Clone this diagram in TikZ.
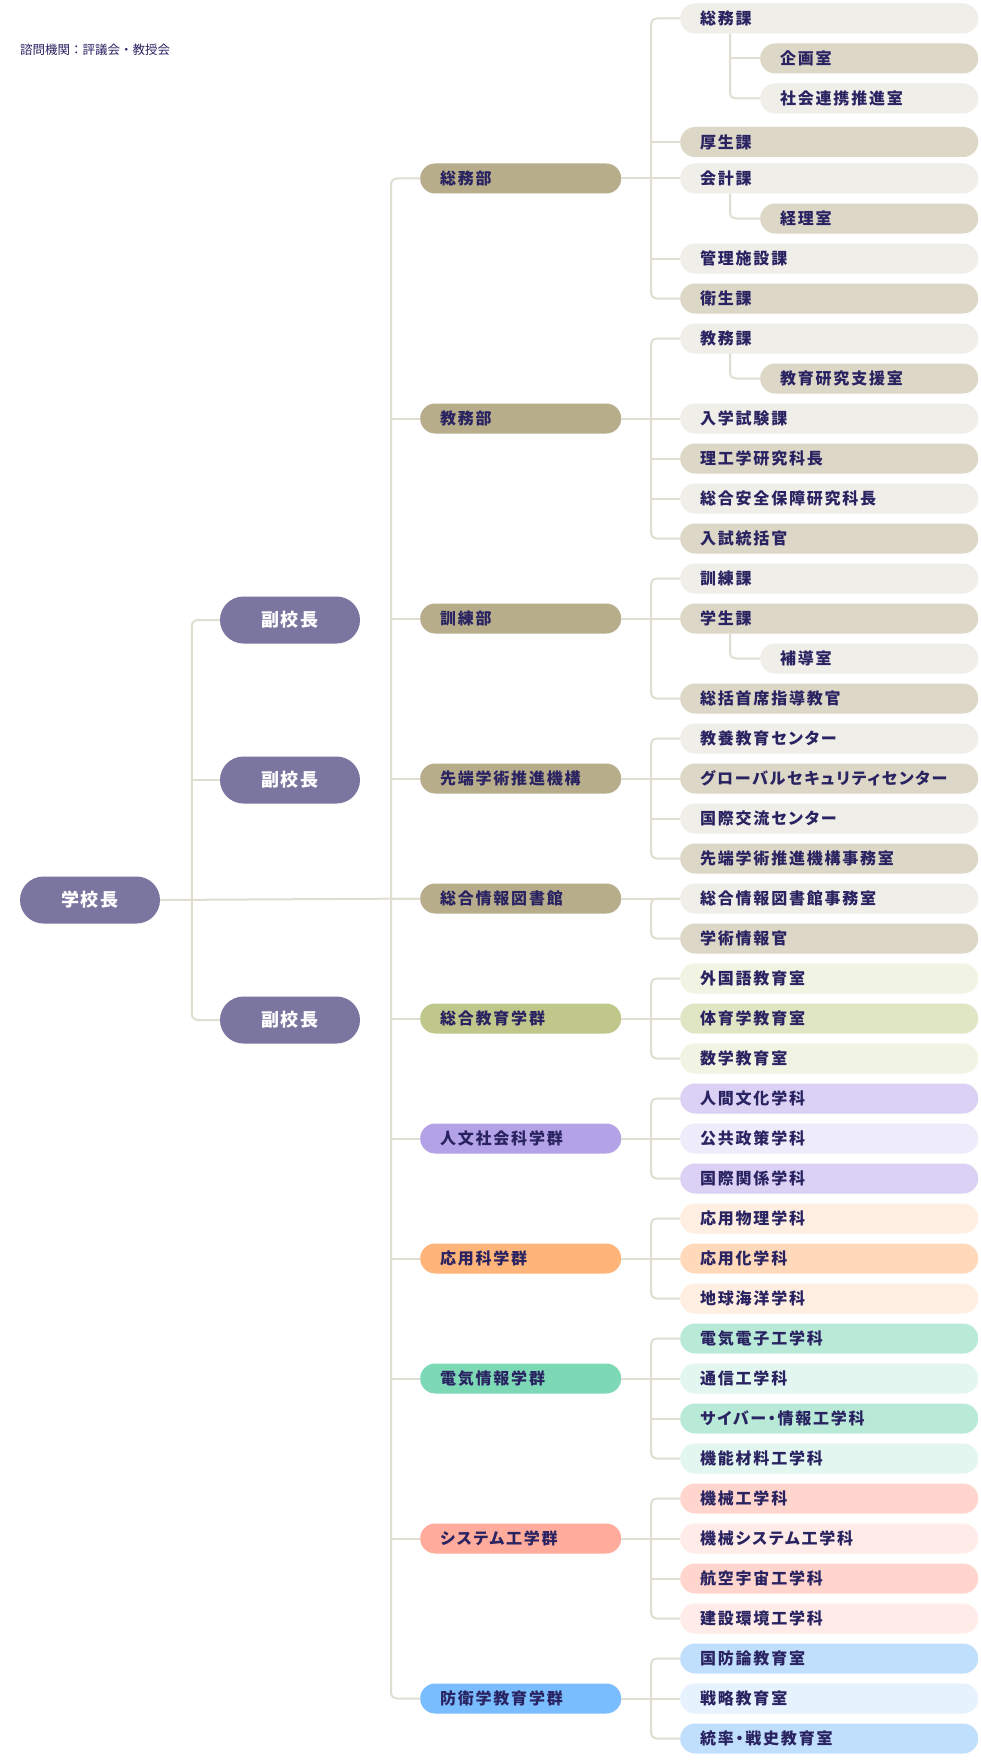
\documentclass[tikz,border=0pt]{standalone}
\usepackage{fontspec}
\setmainfont{Noto Sans CJK JP}
\newfontfamily\jplabel{Noto Sans CJK JP}[LetterSpace=11, RawFeature=+palt]
\usepackage{tikz}
\usetikzlibrary{calc}
\definecolor{navy}{HTML}{2A2362}
\definecolor{headclr}{HTML}{7B76A0}
\definecolor{lineclr}{HTML}{E0DDD1}
\definecolor{brM}{HTML}{B7AD8A}
\definecolor{brL}{HTML}{EFEEE8}
\definecolor{brD}{HTML}{DCD7C7}
\definecolor{grM}{HTML}{C0C78A}
\definecolor{grL}{HTML}{F1F3E3}
\definecolor{grD}{HTML}{E0E5C4}
\definecolor{puM}{HTML}{B3A2E6}
\definecolor{puL}{HTML}{EEEBFA}
\definecolor{puD}{HTML}{DAD1F4}
\definecolor{orM}{HTML}{FFB47A}
\definecolor{orL}{HTML}{FFEFE2}
\definecolor{orD}{HTML}{FFD9BA}
\definecolor{tlM}{HTML}{7DD8B6}
\definecolor{tlL}{HTML}{E3F6EF}
\definecolor{tlD}{HTML}{B8EAD7}
\definecolor{pkM}{HTML}{FFAC9C}
\definecolor{pkL}{HTML}{FFECE8}
\definecolor{pkD}{HTML}{FFD5CD}
\definecolor{blM}{HTML}{7ABDFF}
\definecolor{blL}{HTML}{E6F2FE}
\definecolor{blD}{HTML}{C0DFFC}
\newcommand{\clrtext}{navy}
\newcommand{\clrline}{lineclr}

\tikzset{
    unit/.style={rectangle, rounded corners=15pt, anchor=west, minimum height=30pt,
        inner xsep=20pt, inner ysep=0pt, text width=258pt, align=left,
        text=\clrtext, font=\jplabel\bfseries\fontsize{16}{16}\selectfont},
    unitlow/.style={unit, yshift=-3.5pt},
    subunit/.style={unit, text width=178pt, xshift=80pt},
    dept/.style={unit, text width=161pt},
    head/.style={rectangle, rounded corners=23.5pt, minimum width=140pt, minimum height=47pt,
        inner sep=0pt, fill=headclr, text=white, font=\jplabel\bfseries\fontsize{18}{18}\selectfont},
    link/.style={draw=\clrline, line width=2pt, rounded corners=6pt},
}

\begin{document}
\begin{tikzpicture}[x=1pt, y=-1pt]
    \useasboundingbox[fill=white] (0,0) rectangle (981,1763);

    \node[anchor=west, inner sep=0pt, text=\clrtext, font=\fontsize{12.5}{12.5}\selectfont] (note) at (20,50) {諮問機関：評議会・教授会};

    \foreach \k/\sty/\clr/\txt in {
        0/unit/brL/総務課, 1/subunit/brD/企画室, 2/subunit/brL/社会連携推進室,
        3/unitlow/brD/厚生課, 4/unit/brL/会計課, 5/subunit/brD/経理室,
        6/unit/brL/管理施設課, 7/unit/brD/衛生課, 8/unit/brL/教務課,
        9/subunit/brD/教育研究支援室, 10/unit/brL/入学試験課, 11/unit/brD/理工学研究科長,
        12/unit/brL/総合安全保障研究科長, 13/unit/brD/入試統括官, 14/unit/brL/訓練課,
        15/unit/brD/学生課, 16/subunit/brL/補導室, 17/unit/brD/総括首席指導教官,
        18/unit/brL/教養教育センター, 19/unit/brD/グローバルセキュリティセンター,
        20/unit/brL/国際交流センター, 21/unit/brD/先端学術推進機構事務室,
        22/unit/brL/総合情報図書館事務室, 23/unit/brD/学術情報官,
        24/unit/grL/外国語教育室, 25/unit/grD/体育学教育室, 26/unit/grL/数学教育室,
        27/unit/puD/人間文化学科, 28/unit/puL/公共政策学科, 29/unit/puD/国際関係学科,
        30/unit/orL/応用物理学科, 31/unit/orD/応用化学科, 32/unit/orL/地球海洋学科,
        33/unit/tlD/電気電子工学科, 34/unit/tlL/通信工学科, 35/unit/tlD/サイバー・情報工学科,
        36/unit/tlL/機能材料工学科, 37/unit/pkD/機械工学科, 38/unit/pkL/機械システム工学科,
        39/unit/pkD/航空宇宙工学科, 40/unit/pkL/建設環境工学科,
        41/unit/blD/国防論教育室, 42/unit/blL/戦略教育室, 43/unit/blD/統率・戦史教育室} {
        \node[\sty, fill=\clr] (r\k) at (680, 18.5+40*\k) {\txt};
    }

    \node[head] (gk) at (90,900) {学校長};
    \node[head] (fk1) at (290,620) {副校長};
    \node[head] (fk2) at (290,780) {副校長};
    \node[head] (fk3) at (290,1020) {副校長};

    \foreach \n/\m/\a/\z/\clr/\txt in {
        1/4/0/7/brM/総務部, 2/10/8/13/brM/教務部, 3/15/14/17/brM/訓練部,
        4/19/18/21/brM/先端学術推進機構, 5/22/22/23/brM/総合情報図書館,
        6/25/24/26/grM/総合教育学群, 7/28/27/29/puM/人文社会科学群,
        8/31/30/32/orM/応用科学群, 9/34/33/36/tlM/電気情報学群,
        10/38/37/40/pkM/システム工学群, 11/42/41/43/blM/防衛学教育学群} {
        \node[dept, fill=\clr] (b\n) at (420, 18.5+40*\m) {\txt};
        \draw[link] (b\n.east) -- (r\m.west);
        \draw[link] (r\a.west) -| ([xshift=-29pt]r\z.west) -- (r\z.west);
    }

    \foreach \k in {3,6,10,11,12,15,19,20,25,28,31,34,35,38,39,42} {
        \draw[link] (r\k.west) -- +(-29,0);
    }
    \foreach \p/\z in {0/2,4/5,8/9,15/16} {
        \draw[link] ([xshift=50pt]r\p.south west) |- (r\z.west);
    }
    \draw[link] (r1.west) -- +(-30,0);

    \draw[link] (b1.west) -| ([xshift=-29pt]b11.west) -- (b11.west);
    \foreach \n in {2,...,10} {
        \draw[link] (b\n.west) -- +(-29,0);
    }

    \draw[link] (fk1.west) -| ([xshift=-28pt]fk3.west) -- (fk3.west);
    \draw[link] (fk2.west) -- +(-28,0);
    \draw[link] (gk.east) -- (b5.west);
\end{tikzpicture}
\end{document}
